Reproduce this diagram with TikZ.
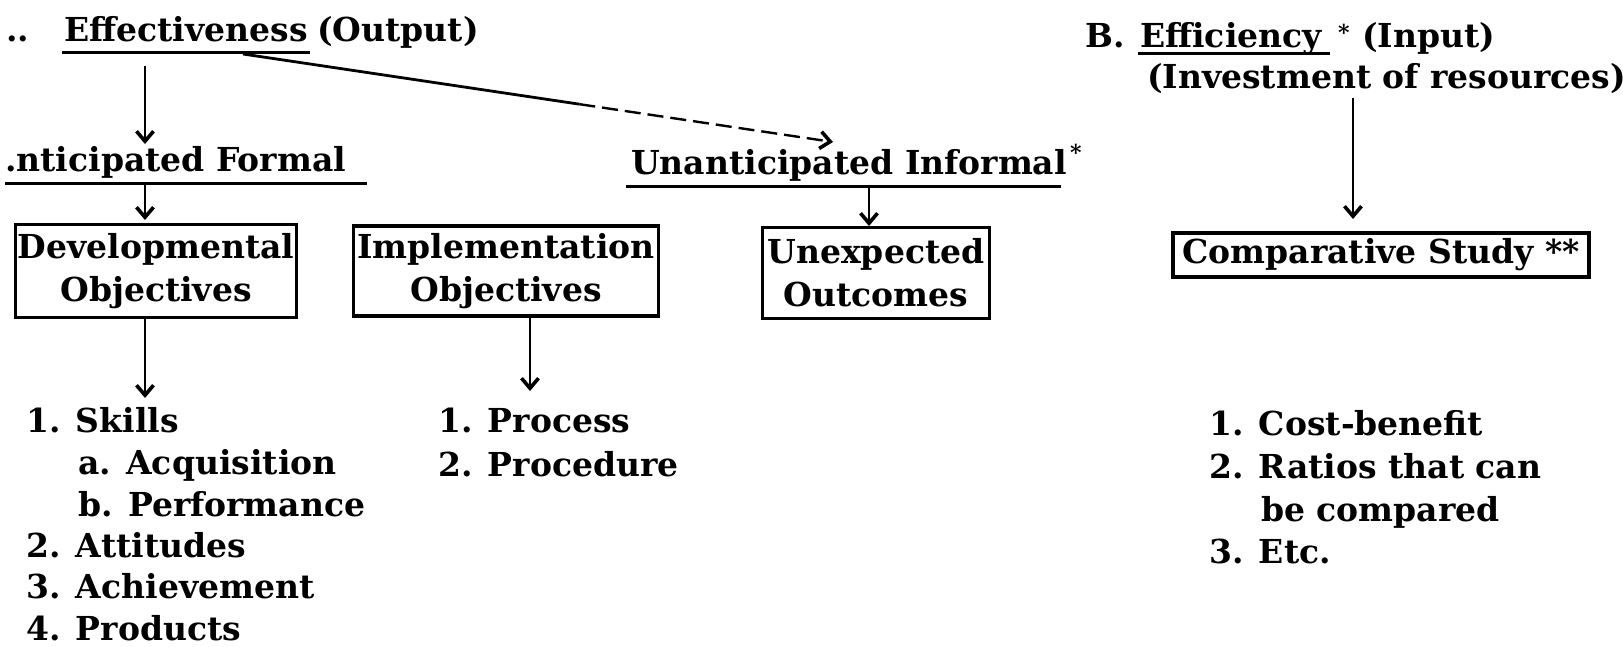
\documentclass[tikz,border=0pt]{standalone}
\usepackage{fontspec}
\setmainfont{DejaVu Serif}
\usetikzlibrary{arrows.meta,calc}
\begin{document}
\begin{tikzpicture}[x=1pt,y=-1pt,
  txt/.style={font=\fontsize{33}{42}\selectfont\bfseries, inner sep=0pt, anchor=base west},
  boxed/.style={draw, line width=3.2pt, font=\fontsize{33}{43}\selectfont\bfseries, align=center, inner sep=0pt},
  arr/.style={line width=2.4pt, -{Straight Barb[length=10pt,width=17pt,line width=3.6pt]}},
  ul/.style={line width=3pt},
  star/.style={font=\fontsize{22}{22}\selectfont\bfseries, inner sep=0pt, anchor=base west}]
\useasboundingbox (0,0) rectangle (1623,646);
% --- A. Effectiveness
\node[txt] (adots) at (6,41) {..};
\node[txt] (eff) at (64,41) {Effectiveness};
\node[txt] (effout) at (317,41) {(Output)};
\draw[ul] (62,52) -- (310,52);
\coordinate (a1s) at (145,66);
\coordinate (a1e) at (145,144);
\draw[arr] (a1s) -- (a1e);
% diagonal
\coordinate (d1) at (243,54);
\coordinate (d2) at (833,142);
\coordinate (dm) at ($(d1)!0.57!(d2)$);
\draw[line width=2.8pt] (d1) -- (dm);
\draw[arr, dash pattern=on 16pt off 7pt] (dm) -- (d2);
% anticipated formal
\node[txt] (antic) at (5,171) {.nticipated Formal};
\draw[ul] (5,183) -- (367,183);
\coordinate (a2s) at (145,184);
\coordinate (a2e) at (145,220);
\draw[arr] (a2s) -- (a2e);
% unanticipated informal
\node[txt] (unant) at (631,174) {Unanticipated Informal};
\node[star] (unstar) at (1070,160) {*};
\draw[ul] (626,186) -- (1061,186);
\coordinate (a3s) at (869,186);
\coordinate (a3e) at (869,226);
\draw[arr] (a3s) -- (a3e);
% boxes
\node[boxed, minimum width=281pt, minimum height=93pt] (dev) at (156,271) {Developmental\\Objectives};
\node[boxed, minimum width=305pt, minimum height=90pt] (imp) at (506,271) {Implementation\\Objectives};
\node[boxed, minimum width=227pt, minimum height=91pt] (unex) at (876,273) {Unexpected\\Outcomes};
\draw[arr] (dev.south -| 145,0) -- (145,398);
\draw[arr] (imp.south -| 530,0) -- (530,391);
% list 1
\node[txt] (l11) at (26,432) {1. Skills};
\node[txt] (l1a) at (78,474) {a. Acquisition};
\node[txt] (l1b) at (78,516) {b. Performance};
\node[txt] (l12) at (26,557) {2. Attitudes};
\node[txt] (l13) at (26,598) {3. Achievement};
\node[txt] (l14) at (26,640) {4. Products};
% list 2
\node[txt] (l21) at (438,432) {1. Process};
\node[txt] (l22) at (438,476) {2. Procedure};
% B. Efficiency
\node[txt] (bhead) at (1085,47) {B.};
\node[txt] (beff) at (1140,47) {Efficiency};
\node[star] (bstar) at (1338,40) {*};
\node[txt] (binp) at (1362,47) {(Input)};
\draw[ul] (1138,53) -- (1330,53);
\node[txt] (binv) at (1147,88) {(Investment of resources)};
\coordinate (b1s) at (1353,98);
\coordinate (b1e) at (1353,219);
\draw[arr, line width=1.8pt] (b1s) -- (b1e);
\node[boxed, minimum width=416pt, minimum height=44pt] (comp) at (1381,255) {Comparative Study **};
% list 3
\node[txt] (l31) at (1209,435) {1. Cost-benefit};
\node[txt] (l32) at (1209,478) {2. Ratios that can};
\node[txt] (l32b) at (1261,521) {be compared};
\node[txt] (l33) at (1209,563) {3. Etc.};
\end{tikzpicture}
\end{document}
